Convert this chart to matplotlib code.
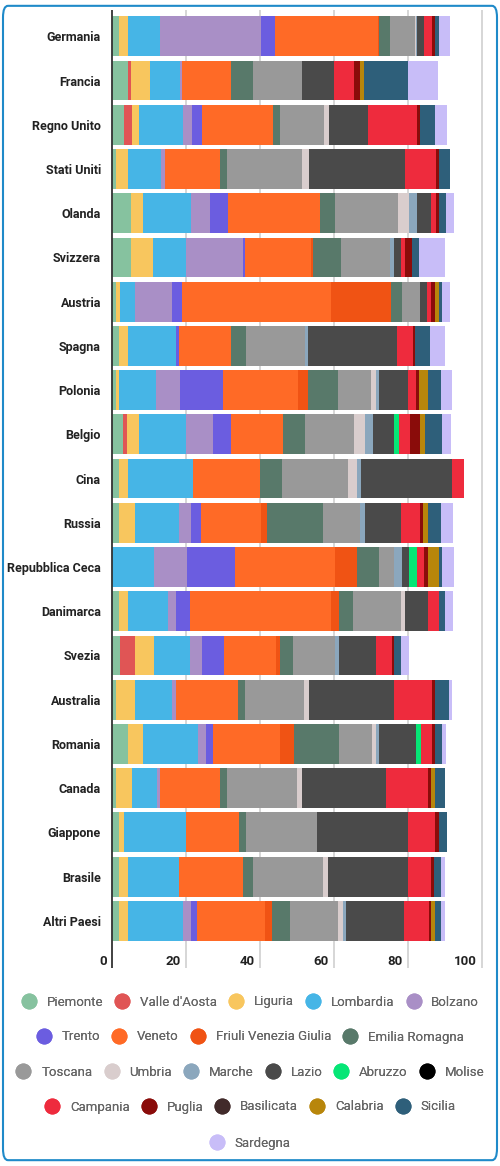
import matplotlib
matplotlib.use("Agg")
import matplotlib.pyplot as plt
from matplotlib.patches import FancyBboxPatch
from matplotlib.lines import Line2D
from matplotlib.transforms import ScaledTranslation

plt.rcParams['font.family'] = ['Roboto', 'DejaVu Sans']

countries = ["Germania", "Francia", "Regno Unito", "Stati Uniti", "Olanda", "Svizzera",
             "Austria", "Spagna", "Polonia", "Belgio", "Cina", "Russia", "Repubblica Ceca",
             "Danimarca", "Svezia", "Australia", "Romania", "Canada", "Giappone", "Brasile",
             "Altri Paesi"]

regions = ["Piemonte", "Valle d'Aosta", "Liguria", "Lombardia", "Bolzano", "Trento", "Veneto",
           "Friuli Venezia Giulia", "Emilia Romagna", "Toscana", "Umbria", "Marche", "Lazio",
           "Abruzzo", "Molise", "Campania", "Puglia", "Basilicata", "Calabria", "Sicilia",
           "Sardegna"]

colors = ["#86c29f", "#e05555", "#f8c65e", "#46b5e6", "#a98fc6", "#6b5de0", "#ff6a26",
          "#f05314", "#58796a", "#999999", "#d9cdcd", "#8ba7bd", "#4a4a4a", "#06e676",
          "#000000", "#ee2b3d", "#8a0c0a", "#412a2a", "#b8860b", "#2e5f7a", "#c8bdf8"]

# values per region, in country order
Piemonte = [2.0, 4.3, 3.2, 1.2, 5.2, 5.2, 1.1, 1.9, 1.1, 3.1, 1.9, 1.9, 0.0, 1.9, 2.2, 1.1, 4.2, 1.1, 1.9, 1.9, 1.9]
Valle_dAosta = [0.0, 0.9, 2.1, 0.0, 0.0, 0.0, 0.0, 0.0, 0.0, 0.9, 0.0, 0.0, 0.0, 0.0, 3.9, 0.0, 0.0, 0.0, 0.0, 0.0, 0.0]
Liguria = [2.3, 5.0, 2.0, 3.2, 3.2, 6.0, 1.1, 2.3, 0.8, 3.2, 2.3, 4.2, 0.0, 2.3, 5.2, 5.0, 4.1, 4.2, 1.3, 2.3, 2.3]
Lombardia = [8.8, 8.3, 11.9, 8.8, 13.0, 8.9, 4.0, 13.2, 10.1, 12.9, 17.8, 12.1, 11.3, 11.0, 9.9, 10.1, 14.9, 6.8, 16.9, 14.0, 14.9]
Bolzano = [27.2, 0.5, 2.3, 1.1, 5.0, 15.2, 10.1, 0.0, 6.4, 7.2, 0.0, 3.1, 9.0, 2.1, 3.2, 1.0, 2.1, 1.0, 0.0, 0.0, 2.2]
Trento = [3.8, 0.0, 2.8, 0.0, 4.9, 0.6, 2.7, 0.8, 11.7, 4.9, 0.0, 2.8, 12.9, 3.9, 5.8, 0.0, 1.9, 0.0, 0.0, 0.0, 1.8]
Veneto = [27.7, 13.2, 19.2, 14.9, 25.0, 18.0, 40.2, 13.9, 20.2, 14.1, 18.1, 16.1, 27.2, 37.9, 14.1, 16.9, 18.3, 16.1, 14.1, 17.1, 18.2]
Friuli = [0.3, 0.0, 0.0, 0.0, 0.0, 0.4, 16.2, 0.0, 2.8, 0.0, 0.0, 1.8, 5.8, 2.2, 1.2, 0.0, 3.8, 0.0, 0.0, 0.0, 1.9]
Emilia = [3.1, 5.9, 1.9, 2.0, 4.1, 7.6, 2.9, 4.0, 8.0, 5.9, 5.9, 15.0, 5.9, 3.9, 3.5, 1.9, 12.0, 1.9, 1.9, 2.7, 5.0]
Toscana = [6.8, 13.3, 11.9, 20.1, 16.9, 13.2, 4.9, 16.0, 9.0, 13.2, 17.9, 10.0, 4.1, 13.0, 11.4, 15.9, 9.0, 19.0, 19.4, 19.0, 13.0]
Umbria = [0.2, 0.0, 1.3, 2.0, 3.0, 0.0, 0.0, 0.0, 1.2, 3.0, 2.2, 0.0, 0.0, 1.0, 0.0, 1.3, 1.1, 1.2, 0.0, 1.3, 1.1]
Marche = [0.2, 0.0, 0.0, 0.0, 2.1, 1.1, 0.0, 1.0, 0.8, 2.1, 1.1, 1.3, 2.3, 0.0, 1.0, 0.0, 0.8, 0.0, 0.0, 0.0, 0.9]
Lazio = [2.0, 8.7, 10.7, 25.9, 3.9, 1.9, 2.0, 24.0, 7.9, 5.7, 24.7, 9.9, 1.7, 6.1, 9.9, 22.9, 9.9, 22.8, 24.6, 21.7, 15.8]
Abruzzo = [0.0, 0.0, 0.0, 0.0, 0.0, 0.0, 0.0, 0.0, 0.0, 1.3, 0.0, 0.0, 2.1, 0.0, 0.0, 0.0, 1.3, 0.0, 0.0, 0.0, 0.0]
Molise = [0.0] * 21
Campania = [2.1, 5.3, 13.1, 8.3, 1.4, 1.1, 1.1, 4.2, 2.1, 3.1, 3.2, 5.0, 2.1, 3.0, 4.3, 10.3, 3.0, 11.4, 7.2, 6.2, 6.6]
Puglia = [0.8, 1.5, 0.9, 0.9, 0.8, 1.9, 0.9, 0.7, 0.9, 2.7, 0.0, 0.9, 0.9, 0.0, 0.5, 0.8, 0.9, 0.6, 1.0, 0.9, 0.6]
Basilicata = [0.0] * 21
Calabria = [0.0, 1.3, 0.0, 0.0, 0.0, 0.0, 1.2, 0.0, 2.4, 1.3, 0.0, 1.4, 3.2, 0.0, 0.0, 0.0, 0.0, 1.1, 0.0, 0.0, 1.1]
Sicilia = [1.1, 11.9, 4.1, 3.0, 1.9, 1.9, 0.7, 4.0, 3.6, 4.7, 0.0, 3.5, 0.7, 1.8, 2.1, 4.0, 1.9, 2.9, 2.3, 1.9, 1.7]
Sardegna = [3.0, 8.1, 3.1, 0.0, 2.0, 7.0, 2.2, 4.1, 3.0, 2.2, 0.0, 3.1, 3.1, 2.0, 2.0, 0.7, 1.0, 0.0, 0.0, 1.0, 1.1]

series = [Piemonte, Valle_dAosta, Liguria, Lombardia, Bolzano, Trento, Veneto, Friuli, Emilia,
          Toscana, Umbria, Marche, Lazio, Abruzzo, Molise, Campania, Puglia, Basilicata,
          Calabria, Sicilia, Sardegna]

xticks = [0, 20, 40, 60, 80, 100]

fig = plt.figure(figsize=(5.0, 11.66), dpi=100)
ax = fig.add_axes([0.224, 0.1913, 0.740, 0.8003])

ypos = list(range(len(countries)))
left = [0.0] * len(countries)
handles = []
for name, vals, col in zip(regions, series, colors):
    ax.barh(ypos, vals, left=left, height=0.9, color=col, edgecolor='none', zorder=2)
    left = [l + v for l, v in zip(left, vals)]
    handles.append(Line2D([0], [0], marker='o', linestyle='none', markersize=11.5,
                          markerfacecolor=col, markeredgecolor='none', label=name))

ax.set_xlim(0, 100)
ax.set_ylim(20.5, -0.6)
ax.set_yticks(ypos)
ax.set_yticklabels(countries, fontsize=9, fontweight='bold', color='#222222')
ax.set_xticks(xticks)
ax.set_xticklabels([str(t) for t in xticks], fontsize=9.5, fontweight='bold', color='#222222')
ax.tick_params(axis='y', length=0, pad=8)
ax.tick_params(axis='x', length=0, pad=9)
shift = ScaledTranslation(-0.05, 0, fig.dpi_scale_trans)
for lab in ax.get_xticklabels():
    lab.set_horizontalalignment('right')
    lab.set_transform(lab.get_transform() + shift)

# grid lines and axis line that run down past the bars, alongside the tick labels
ext = 25 / (0.8003 * 1166)
ax.vlines(xticks[1:], -ext, 1, transform=ax.get_xaxis_transform(), colors='#d0d0d0',
          linewidth=1.2, zorder=0, clip_on=False)
ax.vlines([0], -ext, 1, transform=ax.get_xaxis_transform(), colors='#333333',
          linewidth=1.3, zorder=3, clip_on=False)
for s in ['top', 'right', 'bottom', 'left']:
    ax.spines[s].set_visible(False)

rows = [[0, 1, 2, 3, 4], [5, 6, 7, 8], [9, 10, 11, 12, 13, 14], [15, 16, 17, 18, 19], [20]]
row_y = [1002, 1037, 1072, 1107, 1143]
for r, yy in zip(rows, row_y):
    leg = fig.legend(handles=[handles[i] for i in r], loc='center',
                     bbox_to_anchor=(0.5, 1 - yy / 1166), ncol=len(r), frameon=False,
                     fontsize=9.5, handletextpad=0.75, columnspacing=0.85,
                     handlelength=1.2, labelcolor='#666666', borderpad=0, borderaxespad=0)
    fig.add_artist(leg)

border = FancyBboxPatch((0.006, 0.005), 0.988, 0.99, boxstyle="round,pad=0,rounding_size=0.01",
                        transform=fig.transFigure, fill=False, edgecolor='#1f8ac9', linewidth=1.5)
fig.add_artist(border)

fig.savefig("out.png", dpi=100)
